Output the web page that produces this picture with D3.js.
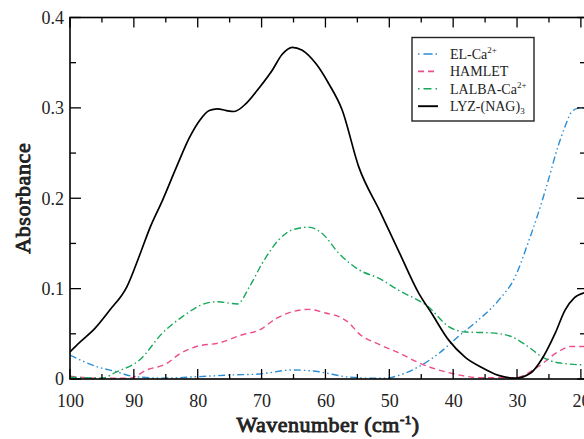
<!DOCTYPE html>
<html><head><meta charset="utf-8">
<script src="https://cdn.jsdelivr.net/npm/d3@7"></script>
<style>body{margin:0;background:#fff}svg{display:block}</style>
</head><body>
<svg id="c" width="584" height="439"></svg>
<script>
// ---- data ----
const lyzW = [100, 98.4, 96.1, 93.8, 91.1, 89.1, 87.5, 85.5, 83.3, 81.3, 79.7, 78.2, 76.9, 75.5, 74.3, 72.4, 70.4, 68.3, 66.8, 65.2, 63.7, 61.5, 59.5, 57.4, 54.8, 51.5, 48.5, 45.4, 43.4, 40.7, 38.1, 35.6, 32.9, 30.3, 27.8, 26.2, 24.0, 22.5, 21.0, 19.2];
const lyzA = [0.030, 0.041, 0.056, 0.076, 0.102, 0.137, 0.167, 0.198, 0.235, 0.267, 0.286, 0.297, 0.299, 0.297, 0.296, 0.305, 0.322, 0.342, 0.359, 0.367, 0.364, 0.349, 0.327, 0.298, 0.235, 0.186, 0.141, 0.095, 0.073, 0.043, 0.024, 0.013, 0.004, 0.001, 0.007, 0.021, 0.051, 0.076, 0.090, 0.096];
const lalbaW = [100, 95, 92.7, 89.1, 85.5, 82.4, 78.6, 76.9, 73.8, 71.9, 69.9, 67.3, 65.2, 62.6, 60.5, 57.9, 54.8, 51.5, 48.5, 43.9, 40.7, 38.1, 34.0, 30.9, 28.3, 26.2, 23.6, 19.2];
const lalbaA = [0.002, 0.001, 0.008, 0.021, 0.051, 0.069, 0.084, 0.0855, 0.083, 0.102, 0.128, 0.154, 0.165, 0.168, 0.161, 0.139, 0.121, 0.111, 0.098, 0.080, 0.058, 0.052, 0.051, 0.047, 0.036, 0.025, 0.018, 0.0155];
const hamletW = [100, 95.8, 90.6, 88.0, 84.9, 82.8, 80.2, 76.6, 73.0, 70.4, 67.7, 65.2, 62.6, 60.0, 57.9, 56.3, 54.8, 51.5, 48.5, 45.4, 40.7, 35.6, 30.3, 26.7, 23.6, 21.6, 19.2];
const hamletA = [0.003, 0.001, 0.001, 0.010, 0.017, 0.028, 0.036, 0.040, 0.049, 0.054, 0.067, 0.0745, 0.077, 0.073, 0.069, 0.062, 0.0505, 0.038, 0.029, 0.018, 0.007, 0.0015, 0.0015, 0.0136, 0.030, 0.036, 0.036];
const elW = [100, 95.8, 92.7, 90.2, 85.5, 80.2, 75.0, 70.4, 65.2, 61.0, 56.8, 53.5, 50.5, 48.5, 45.4, 42.3, 39.2, 36.1, 32.9, 30.3, 28.3, 26.7, 25.1, 23.6, 22.5, 21.6, 20.5, 19.2];
const elA = [0.0265, 0.0136, 0.008, 0.003, 0.001, 0.0025, 0.0044, 0.0055, 0.010, 0.008, 0.0025, 0.001, 0.001, 0.004, 0.0136, 0.028, 0.047, 0.065, 0.087, 0.113, 0.150, 0.183, 0.220, 0.257, 0.279, 0.294, 0.2995, 0.300];
const xTickLabels = [100, 90, 80, 70, 60, 50, 40, 30, 20];
const yTickLabels = [0, 0.1, 0.2, 0.3, 0.4];

const series = [
  {name: "EL-Ca", sup: "2+", sub: null, w: elW, a: elA, color: "#2a8dd4", dash: "7,3,1.5,3,1.5,3", legDash: "1.5,4,9,3", width: 1.4},
  {name: "HAMLET", sup: null, sub: null, w: hamletW, a: hamletA, color: "#ec4e8b", dash: "6,4", legDash: "6,4", width: 1.4},
  {name: "LALBA-Ca", sup: "2+", sub: null, w: lalbaW, a: lalbaA, color: "#17a85a", dash: "7,3,1.5,3", legDash: "1.5,4,8,4,1.5,3", width: 1.4},
  {name: "LYZ-(NAG)", sup: null, sub: "3", w: lyzW, a: lyzA, color: "#000000", dash: null, legDash: null, width: 1.7}
];

// ---- layout ----
const L = 70, R = 586, T = 17.5, B = 379;
const FONT = '"Liberation Serif"';
const svg = d3.select("#c");
const x = d3.scaleLinear().domain([100, 19.2]).range([L, R]);
const y = d3.scaleLinear().domain([0, 0.4]).range([B, T]);

svg.append("defs").append("clipPath").attr("id", "clip")
  .append("rect").attr("x", L).attr("y", T).attr("width", R - L).attr("height", B - T);

const line = d3.line().x(d => x(d[0])).y(d => y(d[1])).curve(d3.curveMonotoneX);
const g = svg.append("g").attr("clip-path", "url(#clip)");
series.forEach(s => {
  const pts = s.w.map((w, i) => [w, s.a[i]]);
  g.append("path").attr("d", line(pts)).attr("fill", "none")
    .attr("stroke", s.color).attr("stroke-width", s.width)
    .attr("stroke-dasharray", s.dash);
});

// ticks
const xMinor = d3.range(100, 15, -5);
const yMinor = d3.range(0, 0.4001, 0.05);
const tk = svg.append("g").attr("stroke", "#000").attr("stroke-width", 1.3);
xMinor.forEach(v => {
  const major = Math.round(v) % 10 === 0;
  const len = major ? 10 : 5;
  tk.append("line").attr("x1", x(v)).attr("x2", x(v)).attr("y1", B).attr("y2", B - len);
  tk.append("line").attr("x1", x(v)).attr("x2", x(v)).attr("y1", T).attr("y2", T + len);
});
yMinor.forEach(v => {
  const major = Math.round(v * 100) % 10 === 0;
  const len = major ? 11 : 6;
  tk.append("line").attr("x1", L).attr("x2", L + len).attr("y1", y(v)).attr("y2", y(v));
  tk.append("line").attr("x1", R).attr("x2", R - (major ? 9 : 6)).attr("y1", y(v)).attr("y2", y(v));
});

// frame
svg.append("rect").attr("x", L).attr("y", T).attr("width", R - L).attr("height", B - T)
  .attr("fill", "none").attr("stroke", "#000").attr("stroke-width", 1.6);

// tick labels
const xAxis = d3.axisBottom(x).tickValues(xTickLabels).tickSize(0).tickPadding(0).tickFormat(d3.format("d"));
const xa = svg.append("g").attr("transform", `translate(0,${B})`).call(xAxis);
xa.attr("font-family", null).attr("font-size", null);
xa.select(".domain").remove();
xa.selectAll("text").style("font-family", FONT).style("font-size", "18px").attr("fill", "#222").attr("dy", null).attr("y", 28);

const yAxis = d3.axisLeft(y).tickValues(yTickLabels).tickSize(0).tickPadding(0).tickFormat(d => d === 0 ? "0" : d3.format(".1f")(d));
const ya = svg.append("g").attr("transform", `translate(${L - 6},0)`).call(yAxis);
ya.attr("font-family", null).attr("font-size", null);
ya.select(".domain").remove();
ya.selectAll("text").style("font-family", FONT).style("font-size", "18px").attr("fill", "#222").attr("dy", "0.33em");

// axis titles (bold drawn with a thin outline of the same colour)
svg.append("text").attr("x", (L + R) / 2).attr("y", 432).attr("text-anchor", "middle")
  .style("font-family", FONT).style("font-size", "22px").style("letter-spacing", "0.5px")
  .attr("fill", "#222").attr("stroke", "#222").attr("stroke-width", 0.9)
  .call(t => {
    t.append("tspan").text("Wavenumber (cm");
    t.append("tspan").style("font-size", "13px").attr("dy", -8).text("-1");
    t.append("tspan").attr("dy", 8).text(")");
  });
svg.append("text").attr("transform", `translate(30,${(T + B) / 2}) rotate(-90)`).attr("text-anchor", "middle")
  .style("font-family", FONT).style("font-size", "22px").style("letter-spacing", "0.6px")
  .attr("fill", "#222").attr("stroke", "#222").attr("stroke-width", 0.9)
  .text("Absorbance");

// legend
const lg = svg.append("g");
lg.append("rect").attr("x", 412).attr("y", 37.5).attr("width", 122).attr("height", 83.5)
  .attr("fill", "#fff").attr("stroke", "#222").attr("stroke-width", 1.4);
series.forEach((s, i) => {
  const yy = 54 + i * 17.4;
  lg.append("line").attr("x1", 418).attr("x2", 438).attr("y1", yy).attr("y2", yy)
    .attr("stroke", s.color).attr("stroke-width", s.width + 0.2).attr("stroke-dasharray", s.legDash);
  const t = lg.append("text").attr("x", 450).attr("y", yy + 5)
    .style("font-family", FONT).style("font-size", "14px").attr("fill", "#222");
  t.append("tspan").text(s.name);
  if (s.sup) t.append("tspan").style("font-size", "9px").attr("dy", -6).text(s.sup);
  if (s.sub) t.append("tspan").style("font-size", "9px").attr("dy", 3).text(s.sub);
});
</script>
</body></html>
